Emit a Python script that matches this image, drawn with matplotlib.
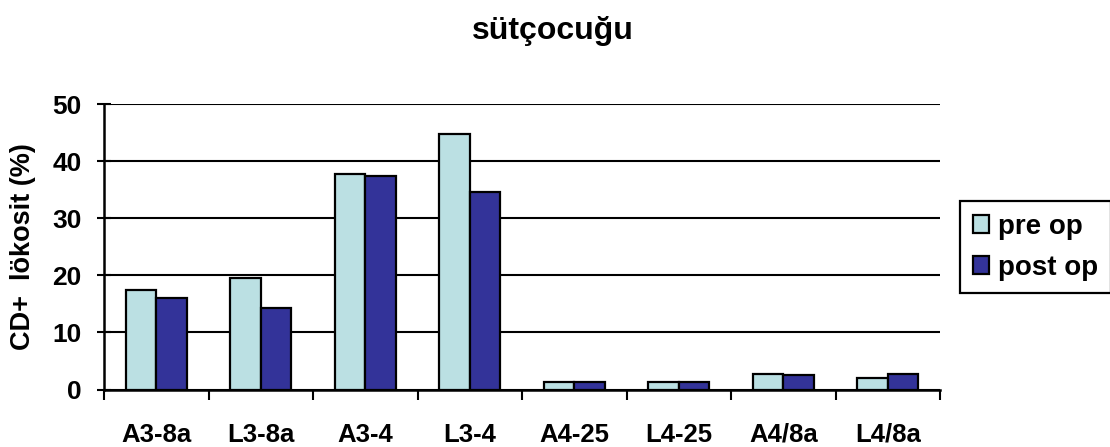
import numpy as np
import matplotlib.pyplot as plt
from matplotlib.ticker import FixedLocator

plt.rcParams['font.family'] = ['Liberation Sans', 'DejaVu Sans']
plt.rcParams['font.weight'] = 'bold'

kategoriler = ['A3-8a', 'L3-8a', 'A3-4', 'L3-4', 'A4-25', 'L4-25', 'A4/8a', 'L4/8a']
pre_op = [17.4, 19.5, 37.8, 44.8, 1.3, 1.3, 2.7, 2.0]
post_op = [16.0, 14.3, 37.4, 34.6, 1.3, 1.3, 2.5, 2.7]

fig = plt.figure(figsize=(11.1, 4.47), dpi=100)
ax = fig.add_axes([104 / 1110, 1 - 389.5 / 447, 836 / 1110, 285.5 / 447])

x = np.arange(len(kategoriler))
w = 0.29
ax.bar(x - w / 2, pre_op, w, color='#BBE0E3', edgecolor='black', linewidth=1.6,
       label='pre op', zorder=3)
ax.bar(x + w / 2, post_op, w, color='#333399', edgecolor='black', linewidth=1.6,
       label='post op', zorder=3)

ax.set_xlim(-0.5, len(kategoriler) - 0.5)
ax.set_ylim(0, 50)
ax.set_yticks([0, 10, 20, 30, 40, 50])
ax.yaxis.grid(True, color='black', linewidth=1.5, zorder=0)

# kategori etiketleri ortada, tik çizgileri aralarda
ax.set_xticks(x)
ax.set_xticklabels(kategoriler, fontsize=18.5, fontweight='bold')
ax.tick_params(axis='x', length=0, pad=24)
ax.xaxis.set_minor_locator(FixedLocator(np.arange(-0.5, len(kategoriler), 1)))
ax.tick_params(axis='x', which='minor', length=7, width=1.5, direction='out')
ax.tick_params(axis='y', length=10, width=1.5, direction='inout', labelsize=19, pad=11)

for s in ['top', 'right']:
    ax.spines[s].set_visible(False)
ax.spines['left'].set_linewidth(1.8)
ax.spines['bottom'].set_linewidth(1.8)

ax.set_ylabel('CD+  lökosit (%)', fontsize=19.5, fontweight='bold', labelpad=12)
fig.text(0.498, 0.93, 'sütçocuğu', ha='center', va='center', fontsize=23, fontweight='bold')

leg = fig.legend(loc='upper left', bbox_to_anchor=(960 / 1110, 1 - 201 / 447),
                 fontsize=20, frameon=True, fancybox=False, edgecolor='black',
                 handlelength=0.6, handleheight=0.6, handletextpad=0.33,
                 borderpad=0.45, labelspacing=0.55, borderaxespad=0)
leg.get_frame().set_linewidth(1.6)
leg.get_frame().set_alpha(1)

fig.savefig('out.png', dpi=100)
